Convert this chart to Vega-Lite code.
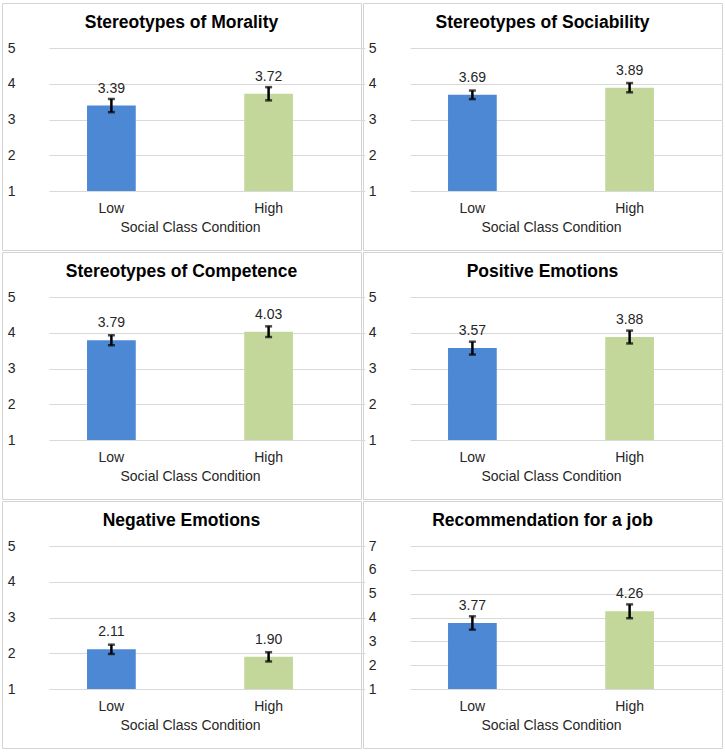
{
  "$schema": "https://vega.github.io/schema/vega-lite/v6.json",
  "padding": {"left": 1, "top": 2, "right": 0, "bottom": 0},
  "background": "white",
  "spacing": 0,
  "columns": 2,
  "data": {
    "values": [
      {"panel": "Stereotypes of Morality", "cond": "Low", "mean": 3.39, "lo": 3.205, "hi": 3.575},
      {"panel": "Stereotypes of Morality", "cond": "High", "mean": 3.72, "lo": 3.535, "hi": 3.905},
      {"panel": "Stereotypes of Sociability", "cond": "Low", "mean": 3.69, "lo": 3.57, "hi": 3.81},
      {"panel": "Stereotypes of Sociability", "cond": "High", "mean": 3.89, "lo": 3.76, "hi": 4.02},
      {"panel": "Stereotypes of Competence", "cond": "Low", "mean": 3.79, "lo": 3.65, "hi": 3.93},
      {"panel": "Stereotypes of Competence", "cond": "High", "mean": 4.03, "lo": 3.88, "hi": 4.18},
      {"panel": "Positive Emotions", "cond": "Low", "mean": 3.57, "lo": 3.39, "hi": 3.75},
      {"panel": "Positive Emotions", "cond": "High", "mean": 3.88, "lo": 3.70, "hi": 4.06},
      {"panel": "Negative Emotions", "cond": "Low", "mean": 2.11, "lo": 1.98, "hi": 2.24},
      {"panel": "Negative Emotions", "cond": "High", "mean": 1.90, "lo": 1.77, "hi": 2.03},
      {"panel": "Recommendation for a job", "cond": "Low", "mean": 3.77, "lo": 3.49, "hi": 4.05},
      {"panel": "Recommendation for a job", "cond": "High", "mean": 4.26, "lo": 3.97, "hi": 4.55}
    ]
  },
  "concat": [
    {
      "title": "Stereotypes of Morality",
      "width": 359, "height": 247,
      "transform": [{"filter": "datum.panel === 'Stereotypes of Morality'"}],
      "encoding": {
        "x": {"field": "cond", "type": "nominal", "sort": ["Low", "High"], "title": "Social Class Condition",
              "scale": {"range": [30, 346], "paddingInner": 0.69, "paddingOuter": 0.35}}
      },
      "layer": [
        {"mark": {"type": "bar"},
         "encoding": {
           "y": {"field": "mean", "type": "quantitative", "title": null,
                 "scale": {"domain": [1, 5], "range": [188, 45], "zero": false, "nice": false},
                 "axis": {"values": [1, 2, 3, 4, 5]}},
           "y2": {"datum": 1},
           "color": {"field": "cond", "type": "nominal", "legend": null,
                     "scale": {"domain": ["Low", "High"], "range": ["#4D88D4", "#C4D79B"]}}}},
        {"mark": {"type": "rule", "color": "black", "strokeWidth": 2.5},
         "encoding": {"y": {"field": "lo", "type": "quantitative", "title": null}, "y2": {"field": "hi"}}},
        {"mark": {"type": "tick", "color": "black", "size": 7, "thickness": 2.5},
         "encoding": {"y": {"field": "lo", "type": "quantitative", "title": null}}},
        {"mark": {"type": "tick", "color": "black", "size": 7, "thickness": 2.5},
         "encoding": {"y": {"field": "hi", "type": "quantitative", "title": null}}},
        {"mark": {"type": "text", "dy": -17, "baseline": "middle", "fontSize": 14, "color": "#262626", "font": "Liberation Sans"},
         "encoding": {"y": {"field": "mean", "type": "quantitative", "title": null},
                      "text": {"field": "mean", "type": "quantitative", "format": ".2f"}}}
      ]
    },
    {
      "title": "Stereotypes of Sociability",
      "width": 359, "height": 247,
      "transform": [{"filter": "datum.panel === 'Stereotypes of Sociability'"}],
      "encoding": {
        "x": {"field": "cond", "type": "nominal", "sort": ["Low", "High"], "title": "Social Class Condition",
              "scale": {"range": [30, 346], "paddingInner": 0.69, "paddingOuter": 0.35}}
      },
      "layer": [
        {"mark": {"type": "bar"},
         "encoding": {
           "y": {"field": "mean", "type": "quantitative", "title": null,
                 "scale": {"domain": [1, 5], "range": [188, 45], "zero": false, "nice": false},
                 "axis": {"values": [1, 2, 3, 4, 5]}},
           "y2": {"datum": 1},
           "color": {"field": "cond", "type": "nominal", "legend": null,
                     "scale": {"domain": ["Low", "High"], "range": ["#4D88D4", "#C4D79B"]}}}},
        {"mark": {"type": "rule", "color": "black", "strokeWidth": 2.5},
         "encoding": {"y": {"field": "lo", "type": "quantitative", "title": null}, "y2": {"field": "hi"}}},
        {"mark": {"type": "tick", "color": "black", "size": 7, "thickness": 2.5},
         "encoding": {"y": {"field": "lo", "type": "quantitative", "title": null}}},
        {"mark": {"type": "tick", "color": "black", "size": 7, "thickness": 2.5},
         "encoding": {"y": {"field": "hi", "type": "quantitative", "title": null}}},
        {"mark": {"type": "text", "dy": -17, "baseline": "middle", "fontSize": 14, "color": "#262626", "font": "Liberation Sans"},
         "encoding": {"y": {"field": "mean", "type": "quantitative", "title": null},
                      "text": {"field": "mean", "type": "quantitative", "format": ".2f"}}}
      ]
    },
    {
      "title": "Stereotypes of Competence",
      "width": 359, "height": 247,
      "transform": [{"filter": "datum.panel === 'Stereotypes of Competence'"}],
      "encoding": {
        "x": {"field": "cond", "type": "nominal", "sort": ["Low", "High"], "title": "Social Class Condition",
              "scale": {"range": [30, 346], "paddingInner": 0.69, "paddingOuter": 0.35}}
      },
      "layer": [
        {"mark": {"type": "bar"},
         "encoding": {
           "y": {"field": "mean", "type": "quantitative", "title": null,
                 "scale": {"domain": [1, 5], "range": [188, 45], "zero": false, "nice": false},
                 "axis": {"values": [1, 2, 3, 4, 5]}},
           "y2": {"datum": 1},
           "color": {"field": "cond", "type": "nominal", "legend": null,
                     "scale": {"domain": ["Low", "High"], "range": ["#4D88D4", "#C4D79B"]}}}},
        {"mark": {"type": "rule", "color": "black", "strokeWidth": 2.5},
         "encoding": {"y": {"field": "lo", "type": "quantitative", "title": null}, "y2": {"field": "hi"}}},
        {"mark": {"type": "tick", "color": "black", "size": 7, "thickness": 2.5},
         "encoding": {"y": {"field": "lo", "type": "quantitative", "title": null}}},
        {"mark": {"type": "tick", "color": "black", "size": 7, "thickness": 2.5},
         "encoding": {"y": {"field": "hi", "type": "quantitative", "title": null}}},
        {"mark": {"type": "text", "dy": -17, "baseline": "middle", "fontSize": 14, "color": "#262626", "font": "Liberation Sans"},
         "encoding": {"y": {"field": "mean", "type": "quantitative", "title": null},
                      "text": {"field": "mean", "type": "quantitative", "format": ".2f"}}}
      ]
    },
    {
      "title": "Positive Emotions",
      "width": 359, "height": 247,
      "transform": [{"filter": "datum.panel === 'Positive Emotions'"}],
      "encoding": {
        "x": {"field": "cond", "type": "nominal", "sort": ["Low", "High"], "title": "Social Class Condition",
              "scale": {"range": [30, 346], "paddingInner": 0.69, "paddingOuter": 0.35}}
      },
      "layer": [
        {"mark": {"type": "bar"},
         "encoding": {
           "y": {"field": "mean", "type": "quantitative", "title": null,
                 "scale": {"domain": [1, 5], "range": [188, 45], "zero": false, "nice": false},
                 "axis": {"values": [1, 2, 3, 4, 5]}},
           "y2": {"datum": 1},
           "color": {"field": "cond", "type": "nominal", "legend": null,
                     "scale": {"domain": ["Low", "High"], "range": ["#4D88D4", "#C4D79B"]}}}},
        {"mark": {"type": "rule", "color": "black", "strokeWidth": 2.5},
         "encoding": {"y": {"field": "lo", "type": "quantitative", "title": null}, "y2": {"field": "hi"}}},
        {"mark": {"type": "tick", "color": "black", "size": 7, "thickness": 2.5},
         "encoding": {"y": {"field": "lo", "type": "quantitative", "title": null}}},
        {"mark": {"type": "tick", "color": "black", "size": 7, "thickness": 2.5},
         "encoding": {"y": {"field": "hi", "type": "quantitative", "title": null}}},
        {"mark": {"type": "text", "dy": -17, "baseline": "middle", "fontSize": 14, "color": "#262626", "font": "Liberation Sans"},
         "encoding": {"y": {"field": "mean", "type": "quantitative", "title": null},
                      "text": {"field": "mean", "type": "quantitative", "format": ".2f"}}}
      ]
    },
    {
      "title": "Negative Emotions",
      "width": 359, "height": 247,
      "transform": [{"filter": "datum.panel === 'Negative Emotions'"}],
      "encoding": {
        "x": {"field": "cond", "type": "nominal", "sort": ["Low", "High"], "title": "Social Class Condition",
              "scale": {"range": [30, 346], "paddingInner": 0.69, "paddingOuter": 0.35}}
      },
      "layer": [
        {"mark": {"type": "bar"},
         "encoding": {
           "y": {"field": "mean", "type": "quantitative", "title": null,
                 "scale": {"domain": [1, 5], "range": [188, 45], "zero": false, "nice": false},
                 "axis": {"values": [1, 2, 3, 4, 5]}},
           "y2": {"datum": 1},
           "color": {"field": "cond", "type": "nominal", "legend": null,
                     "scale": {"domain": ["Low", "High"], "range": ["#4D88D4", "#C4D79B"]}}}},
        {"mark": {"type": "rule", "color": "black", "strokeWidth": 2.5},
         "encoding": {"y": {"field": "lo", "type": "quantitative", "title": null}, "y2": {"field": "hi"}}},
        {"mark": {"type": "tick", "color": "black", "size": 7, "thickness": 2.5},
         "encoding": {"y": {"field": "lo", "type": "quantitative", "title": null}}},
        {"mark": {"type": "tick", "color": "black", "size": 7, "thickness": 2.5},
         "encoding": {"y": {"field": "hi", "type": "quantitative", "title": null}}},
        {"mark": {"type": "text", "dy": -17, "baseline": "middle", "fontSize": 14, "color": "#262626", "font": "Liberation Sans"},
         "encoding": {"y": {"field": "mean", "type": "quantitative", "title": null},
                      "text": {"field": "mean", "type": "quantitative", "format": ".2f"}}}
      ]
    },
    {
      "title": "Recommendation for a job",
      "width": 359, "height": 247,
      "transform": [{"filter": "datum.panel === 'Recommendation for a job'"}],
      "encoding": {
        "x": {"field": "cond", "type": "nominal", "sort": ["Low", "High"], "title": "Social Class Condition",
              "scale": {"range": [30, 346], "paddingInner": 0.69, "paddingOuter": 0.35}}
      },
      "layer": [
        {"mark": {"type": "bar"},
         "encoding": {
           "y": {"field": "mean", "type": "quantitative", "title": null,
                 "scale": {"domain": [1, 7], "range": [188, 45], "zero": false, "nice": false},
                 "axis": {"values": [1, 2, 3, 4, 5, 6, 7]}},
           "y2": {"datum": 1},
           "color": {"field": "cond", "type": "nominal", "legend": null,
                     "scale": {"domain": ["Low", "High"], "range": ["#4D88D4", "#C4D79B"]}}}},
        {"mark": {"type": "rule", "color": "black", "strokeWidth": 2.5},
         "encoding": {"y": {"field": "lo", "type": "quantitative", "title": null}, "y2": {"field": "hi"}}},
        {"mark": {"type": "tick", "color": "black", "size": 7, "thickness": 2.5},
         "encoding": {"y": {"field": "lo", "type": "quantitative", "title": null}}},
        {"mark": {"type": "tick", "color": "black", "size": 7, "thickness": 2.5},
         "encoding": {"y": {"field": "hi", "type": "quantitative", "title": null}}},
        {"mark": {"type": "text", "dy": -17, "baseline": "middle", "fontSize": 14, "color": "#262626", "font": "Liberation Sans"},
         "encoding": {"y": {"field": "mean", "type": "quantitative", "title": null},
                      "text": {"field": "mean", "type": "quantitative", "format": ".2f"}}}
      ]
    }
  ],
  "config": {
    "view": {"stroke": "#D4D4D4", "strokeWidth": 1},
    "font": "Liberation Sans",
    "title": {"fontSize": 17.5, "fontWeight": "bold", "color": "#000000", "font": "Liberation Sans",
              "anchor": "middle", "frame": "group", "baseline": "middle", "offset": -28},
    "axis": {"labelFont": "Liberation Sans", "labelFontSize": 14, "labelColor": "#262626",
             "titleFont": "Liberation Sans", "titleFontSize": 14, "titleFontWeight": "normal", "titleColor": "#262626",
             "domain": false, "ticks": false},
    "axisX": {"labelAngle": 0, "offset": -51, "labelPadding": 2, "titlePadding": 5, "grid": false},
    "axisY": {"grid": true, "gridColor": "#D9D9D9", "gridWidth": 1, "offset": -17, "labelPadding": 4, "format": "d"}
  }
}
